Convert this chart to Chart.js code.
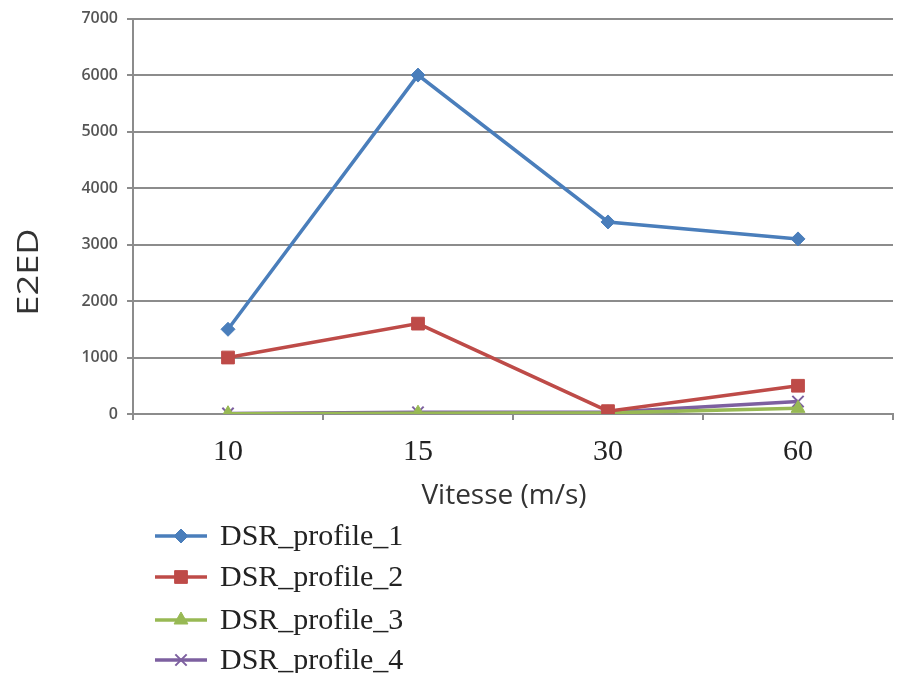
<!DOCTYPE html>
<html>
<head>
<meta charset="utf-8">
<script src="https://cdn.jsdelivr.net/npm/chart.js@4/dist/chart.umd.min.js"></script>
<style>
html,body{margin:0;padding:0;background:#fff;}
#wrap{width:911px;height:673px;position:relative;}
</style>
</head>
<body>
<div id="wrap"><canvas id="c"></canvas></div>
<script>
const categories = ['10', '15', '30', '60'];
const dsr1 = [1500, 6000, 3400, 3100];
const dsr2 = [1000, 1600, 50, 500];
const dsr3 = [5, 15, 20, 100];
const dsr4 = [10, 30, 30, 220];
const seriesNames = ['DSR_profile_1', 'DSR_profile_2', 'DSR_profile_3', 'DSR_profile_4'];
const yTitle = 'E2ED';
const xTitle = 'Vitesse (m/s)';

const colors = ['#4a7ebb', '#be4b48', '#98b954', '#7d60a0'];
const styles = ['rectRot', 'rect', 'triangle', 'crossRot'];
const radii = [7, 9, 8, 8];

const datasets = [dsr1, dsr2, dsr3, dsr4].map((d, i) => ({
  label: seriesNames[i],
  data: d,
  borderColor: colors[i],
  backgroundColor: colors[i],
  borderWidth: 3.5,
  pointStyle: styles[i],
  pointRadius: radii[i],
  pointBorderWidth: i === 3 ? 2 : 1,
  pointBorderColor: colors[i],
  pointBackgroundColor: colors[i],
  tension: 0,
  fill: false,
  order: i
}));

const extras = {
  id: 'extras',
  afterDraw(chart) {
    const ctx = chart.ctx;
    // y title
    ctx.save();
    ctx.font = '29px "Open Sans"';
    ctx.fillStyle = '#333';
    ctx.textAlign = 'center';
    ctx.textBaseline = 'middle';
    ctx.translate(30, 272);
    ctx.rotate(-Math.PI / 2);
    ctx.scale(1.25, 1);
    ctx.fillText(yTitle, 0, 0);
    ctx.restore();

    // x title
    ctx.save();
    ctx.font = '28px "Open Sans"';
    ctx.fillStyle = '#333';
    ctx.textAlign = 'center';
    ctx.textBaseline = 'middle';
    ctx.fillText(xTitle, 504, 496);
    ctx.restore();

    // legend
    const rows = [536, 577, 620, 660];
    chart.data.datasets.forEach((ds, i) => {
      const y = rows[i];
      ctx.save();
      ctx.strokeStyle = ds.borderColor;
      ctx.lineWidth = 3.5;
      ctx.beginPath();
      ctx.moveTo(155, y);
      ctx.lineTo(207, y);
      ctx.stroke();
      ctx.fillStyle = ds.pointBackgroundColor;
      ctx.strokeStyle = ds.pointBorderColor;
      ctx.lineWidth = ds.pointBorderWidth;
      if (Chart.helpers && Chart.helpers.drawPoint) {
        Chart.helpers.drawPoint(ctx, {pointStyle: ds.pointStyle, radius: ds.pointRadius, rotation: 0, borderWidth: ds.pointBorderWidth}, 181, y);
      }
      ctx.fillStyle = '#222';
      ctx.font = '30px "Liberation Serif"';
      ctx.textAlign = 'left';
      ctx.textBaseline = 'middle';
      ctx.fillText(ds.label, 220, y + 1);
      ctx.restore();
    });
  }
};

new Chart(document.getElementById('c'), {
  type: 'line',
  data: { labels: categories, datasets },
  options: {
    responsive: true,
    maintainAspectRatio: false,
    animation: false,
    layout: { padding: { left: 0, top: 18, right: 18, bottom: 159 } },
    plugins: { legend: { display: false }, tooltip: { enabled: false } },
    scales: {
      x: {
        offset: true,
        grid: { display: true, offset: true, drawOnChartArea: false, drawTicks: true, tickLength: 6, color: '#8c8c8c', lineWidth: 2 },
        border: { display: true, color: '#8c8c8c', width: 2 },
        ticks: { font: { family: '"Liberation Serif"', size: 30 }, color: '#222', padding: 14, maxRotation: 0 },
        title: { display: false },
        afterFit(scale) { scale.height = 100; }
      },
      y: {
        min: 0, max: 7000,
        ticks: { stepSize: 1000, font: { family: '"Open Sans"', size: 16, weight: '600' }, color: '#555', padding: 9,
          callback: (v) => String(v) },
        grid: { color: '#8c8c8c', lineWidth: 2, tickLength: 6 },
        border: { display: true, color: '#8c8c8c', width: 2 },
        afterFit(scale) { scale.width = 133; }
      }
    }
  },
  plugins: [extras]
});
</script>
</body>
</html>
